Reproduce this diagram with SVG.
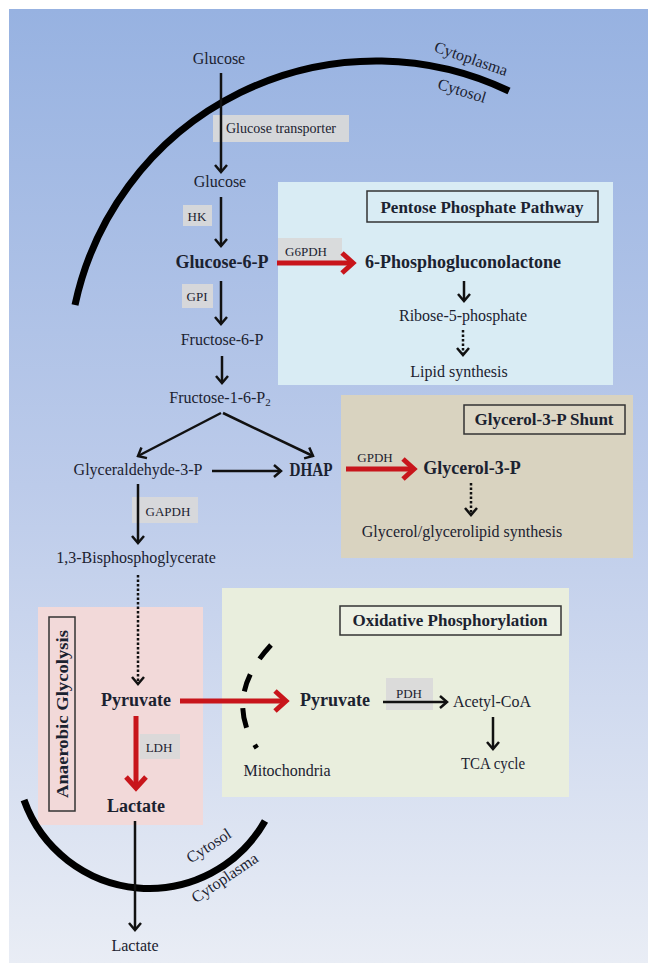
<svg xmlns="http://www.w3.org/2000/svg" width="656" height="973" viewBox="0 0 656 973">
<defs>
<linearGradient id="bg" x1="0" y1="0" x2="0" y2="1">
<stop offset="0" stop-color="#97b2e1"/>
<stop offset="0.5" stop-color="#bccbea"/>
<stop offset="1" stop-color="#e9edf5"/>
</linearGradient>
<marker id="ah" viewBox="-10 -8 12 16" markerWidth="12" markerHeight="16" refX="0" refY="0" orient="auto" markerUnits="userSpaceOnUse">
<path d="M-7,-6 L0,0 L-7,6" fill="none" stroke="#111" stroke-width="2.5"/>
</marker>
<marker id="rh" viewBox="-16 -14 20 28" markerWidth="20" markerHeight="28" refX="0" refY="0" orient="auto" markerUnits="userSpaceOnUse">
<path d="M-11,-10 L0,0 L-11,10" fill="none" stroke="#c8151b" stroke-width="5"/>
</marker>
<style>
.t{font-family:"Liberation Serif","Times New Roman",serif;fill:#1b2230;text-anchor:middle}
.r{font-size:16px}
.b{font-size:18px;font-weight:bold}
.h{font-size:17px;font-weight:bold}
.e{font-size:13px}
.c{stroke:#111;stroke-width:2.5;fill:none;marker-end:url(#ah)}
.d{stroke:#111;stroke-width:2.5;fill:none;stroke-dasharray:2.5 2;marker-end:url(#ah)}
.red{stroke:#c8151b;stroke-width:5;fill:none;marker-end:url(#rh)}
.lab{fill:#d9d9d9;opacity:0.92}
.ttl{stroke:#333;stroke-width:1.5}
.mem{fill:none;stroke:#000;stroke-width:7}
</style>
</defs>

<rect x="9" y="9" width="639" height="954" fill="url(#bg)"/>

<g id="ppp-box"><rect x="278" y="182" width="335" height="203" fill="#d9ecf4"/></g>
<g id="g3p-shunt-box"><rect x="341" y="395" width="292" height="163" fill="#d9d3c0"/></g>
<g id="anaerobic-box"><rect x="38" y="607" width="165" height="218" fill="#f2d9d9"/></g>
<g id="oxphos-box"><rect x="222" y="588" width="347" height="209" fill="#e9eedd"/></g>

<g id="membranes">
<path class="mem" d="M75,305 A308,308 0 0,1 509,91"/>
<path class="mem" d="M24,800 A133,133 0 0,0 265,821"/>
<path d="M271,645 Q220,700 261,754" fill="none" stroke="#000" stroke-width="5" stroke-dasharray="18 18 18 17 20 19 4 100"/>
<text class="t r" x="471" y="64" transform="rotate(19 471 59)">Cytoplasma</text>
<text class="t r" x="462" y="96" transform="rotate(17 462 91)">Cytosol</text>
<text class="t r" x="209" y="851" transform="rotate(-33 209 846)">Cytosol</text>
<text class="t r" x="225" y="883" transform="rotate(-34 225 878)">Cytoplasma</text>
<text class="t r" x="287" y="776">Mitochondria</text>
</g>

<g id="titles">
<g id="ppp-title"><rect class="ttl" x="367" y="191" width="231" height="31" fill="#d9ecf4"/><text class="t h" x="482" y="213">Pentose Phosphate Pathway</text></g>
<g id="shunt-title"><rect class="ttl" x="464" y="405" width="161" height="29" fill="#ddd7c5"/><text class="t h" x="544" y="425">Glycerol-3-P Shunt</text></g>
<g id="oxphos-title"><rect class="ttl" x="340" y="606" width="221" height="29" fill="#edf1e4"/><text class="t h" x="450" y="626">Oxidative Phosphorylation</text></g>
<g id="anaerobic-title"><rect class="ttl" x="49" y="617" width="26" height="194" fill="#f2d9d9"/><text class="t h" transform="translate(62,714) rotate(-90)" x="0" y="6" textLength="168" lengthAdjust="spacingAndGlyphs">Anaerobic Glycolysis</text></g>
</g>

<g id="enzymes">
<rect class="lab" x="213" y="115" width="136" height="27"/>
<rect class="lab" x="183" y="205" width="29" height="21"/>
<rect class="lab" x="278" y="238" width="64" height="23"/>
<rect class="lab" x="182" y="284" width="31" height="24"/>
<rect class="lab" x="132" y="497" width="66" height="26"/>
<rect class="lab" x="386" y="678" width="47" height="32"/>
<rect class="lab" x="140" y="734" width="40" height="25"/>
</g>

<g id="connectors">
<path class="c" d="M221,73 L221,172"/>
<path class="c" d="M221,197 L221,246"/>
<path class="c" d="M221,281 L221,324"/>
<path class="c" d="M222,356 L222,383"/>
<path class="c" d="M221,413 L138,456"/>
<path class="c" d="M223,413 L313,456"/>
<path class="c" d="M212,471 L281,471"/>
<path class="c" d="M138,484 L138,543"/>
<path class="d" d="M138,575 L138,684"/>
<path class="red" d="M136,716 L136,788"/>
<path class="red" d="M180,701 L286,701"/>
<path class="c" d="M383,702 L447,702"/>
<path class="c" d="M493,717 L493,749"/>
<path class="c" d="M135,821 L135,930"/>
<path class="red" d="M277,263 L353,263"/>
<path class="c" d="M464,281 L464,301"/>
<path class="d" d="M463,330 L463,355"/>
<path class="red" d="M346,469 L414,469"/>
<path class="d" d="M471,483 L471,515"/>
</g>

<g id="enzyme-labels">
<text class="t" x="226" y="133" style="font-size:14px;text-anchor:start">Glucose transporter</text>
<text class="t e" x="197" y="220.5">HK</text>
<text class="t e" x="306" y="255.5">G6PDH</text>
<text class="t e" x="197" y="300.5">GPI</text>
<text class="t e" x="168" y="515.5">GAPDH</text>
<text class="t e" x="375" y="461.5">GPDH</text>
<text class="t e" x="409" y="697.5">PDH</text>
<text class="t e" x="159" y="751.5">LDH</text>
</g>

<g id="glucose-out"><text class="t r" x="219" y="64">Glucose</text></g>
<g id="glucose-in"><text class="t r" x="220" y="187">Glucose</text></g>
<g id="g6p"><text class="t b" x="222" y="268">Glucose-6-P</text></g>
<g id="f6p"><text class="t r" x="222" y="345">Fructose-6-P</text></g>
<g id="f16bp"><text class="t r" x="220" y="403">Fructose-1-6-P<tspan font-size="11" dy="3">2</tspan></text></g>
<g id="gap"><text class="t r" x="138" y="475">Glyceraldehyde-3-P</text></g>
<g id="dhap"><text class="t b" x="311" y="476" textLength="43" lengthAdjust="spacingAndGlyphs">DHAP</text></g>
<g id="bpg"><text class="t r" x="136" y="563">1,3-Bisphosphoglycerate</text></g>
<g id="pyruvate-cyt"><text class="t b" x="136" y="706">Pyruvate</text></g>
<g id="lactate-cyt"><text class="t b" x="136" y="812">Lactate</text></g>
<g id="lactate-out"><text class="t r" x="135" y="951">Lactate</text></g>
<g id="pgl"><text class="t b" x="463" y="268">6-Phosphogluconolactone</text></g>
<g id="r5p"><text class="t r" x="463" y="321">Ribose-5-phosphate</text></g>
<g id="lipid"><text class="t r" x="459" y="377">Lipid synthesis</text></g>
<g id="glycerol3p"><text class="t b" x="472" y="474">Glycerol-3-P</text></g>
<g id="glycerolipid"><text class="t r" x="462" y="537">Glycerol/glycerolipid synthesis</text></g>
<g id="pyruvate-mito"><text class="t b" x="335" y="706">Pyruvate</text></g>
<g id="acetyl-coa"><text class="t r" x="492" y="707">Acetyl-CoA</text></g>
<g id="tca"><text class="t r" x="493" y="769" textLength="64" lengthAdjust="spacingAndGlyphs">TCA cycle</text></g>
</svg>
